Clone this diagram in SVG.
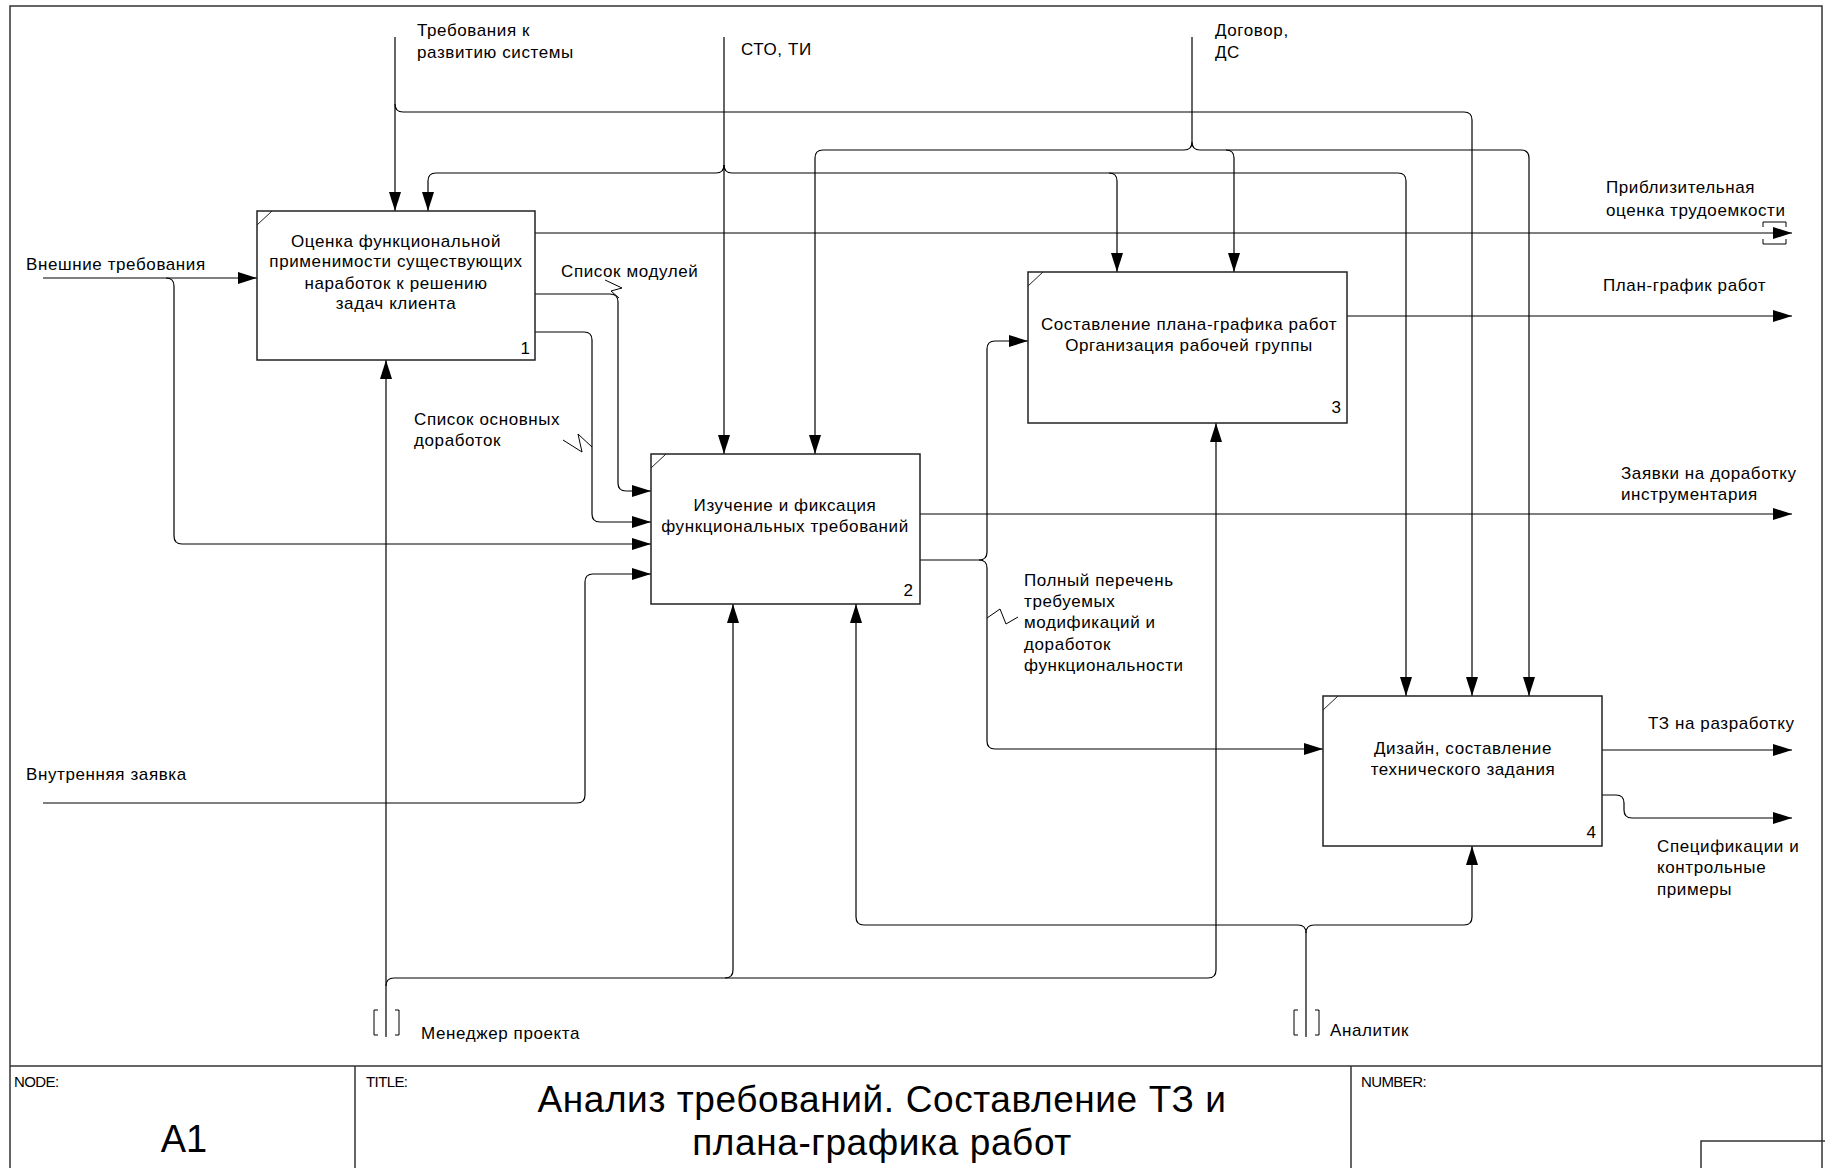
<svg xmlns="http://www.w3.org/2000/svg" width="1825" height="1168" viewBox="0 0 1825 1168">
  <style>
    .frame { fill: none; stroke: #333; stroke-width: 1.5; }
    .box { fill: #fff; stroke: #222; stroke-width: 1.5; }
    .tick { stroke: #222; stroke-width: 1; }
    .wire { fill: none; stroke: #000; stroke-width: 1.2; }
    .thin { fill: none; stroke: #000; stroke-width: 1; }
    text { font-family: "Liberation Sans", Arial, sans-serif; fill: #000; }
    .lbl { font-size: 17px; letter-spacing: 0.6px; }
    .nodeText { font-size: 17px; letter-spacing: 0.6px; text-anchor: middle; }
    .num { font-size: 17px; text-anchor: end; }
    .hdr { font-size: 15px; letter-spacing: -0.6px; }
    .title { font-size: 37px; text-anchor: middle; letter-spacing: 0.6px; }
    .nodeId { font-size: 38px; text-anchor: middle; }
  </style>
  <defs>
    <marker id="arrow" markerUnits="userSpaceOnUse" markerWidth="20" markerHeight="14" refX="19" refY="6" orient="auto">
      <path d="M0,0 L19,6 L0,12 z" fill="#000"/>
    </marker>
  </defs>

  <rect width="1825" height="1168" fill="#fff"/>

  <!-- sheet frame and title block -->
  <g id="frame">
    <rect class="frame" x="10" y="6" width="1812" height="1170"/>
    <line class="frame" x1="10" y1="1066" x2="1822" y2="1066"/>
    <line class="frame" x1="355" y1="1066" x2="355" y2="1168"/>
    <line class="frame" x1="1351" y1="1066" x2="1351" y2="1168"/>
    <polyline class="frame" points="1701,1168 1701,1141 1825,1141"/>
    <text class="hdr" x="14" y="1087">NODE:</text>
    <text class="hdr" x="366" y="1087">TITLE:</text>
    <text class="hdr" x="1361" y="1087">NUMBER:</text>
    <text class="nodeId" x="184" y="1152">A1</text>
    <text class="title" x="882" y="1112">Анализ требований. Составление ТЗ и</text>
    <text class="title" x="882" y="1155">плана-графика работ</text>
  </g>

  <!-- connectors -->
  <g id="connectors">
    <!-- Требования к развитию системы -->
    <path class="wire" d="M395,37 V211" marker-end="url(#arrow)"/>
    <path class="wire" d="M395,104 Q395,112 403,112 H1464 Q1472,112 1472,120 V696" marker-end="url(#arrow)"/>

    <!-- СТО, ТИ -->
    <path class="wire" d="M724,37 V454" marker-end="url(#arrow)"/>
    <path class="wire" d="M724,165 Q724,173 716,173 H436 Q428,173 428,181 V211" marker-end="url(#arrow)"/>
    <path class="wire" d="M724,165 Q724,173 732,173 H1109 Q1117,173 1117,181 V272" marker-end="url(#arrow)"/>
    <path class="wire" d="M1109,173 H1398 Q1406,173 1406,181 V696" marker-end="url(#arrow)"/>

    <!-- Договор, ДС -->
    <path class="wire" d="M1192,37 V142"/>
    <path class="wire" d="M1192,142 Q1192,150 1184,150 H823 Q815,150 815,158 V454" marker-end="url(#arrow)"/>
    <path class="wire" d="M1192,142 Q1192,150 1200,150 H1226 Q1234,150 1234,158 V272" marker-end="url(#arrow)"/>
    <path class="wire" d="M1226,150 H1521 Q1529,150 1529,158 V696" marker-end="url(#arrow)"/>

    <!-- Приблизительная оценка трудоемкости (tunnelled) -->
    <path class="wire" d="M535,233 H1792" marker-end="url(#arrow)"/>
    <path class="thin" d="M1763,227 V222 H1786 V227"/>
    <path class="thin" d="M1763,239 V244 H1786 V239"/>

    <!-- Список модулей -->
    <path class="wire" d="M535,294 H610 Q618,294 618,302 V483 Q618,491 626,491 H651" marker-end="url(#arrow)"/>
    <polyline class="thin" points="605,280 622,288 611,291 619,298"/>

    <!-- Список основных доработок -->
    <path class="wire" d="M535,332 H584 Q592,332 592,340 V514 Q592,522 600,522 H651" marker-end="url(#arrow)"/>
    <polyline class="thin" points="563,440 582,452 578,434 592,447"/>

    <!-- Внешние требования -->
    <path class="wire" d="M43,278 H257" marker-end="url(#arrow)"/>
    <path class="wire" d="M166,278 Q174,278 174,286 V536 Q174,544 182,544 H651" marker-end="url(#arrow)"/>

    <!-- Внутренняя заявка -->
    <path class="wire" d="M43,803 H577 Q585,803 585,795 V582 Q585,574 593,574 H651" marker-end="url(#arrow)"/>

    <!-- Заявки на доработку инструментария -->
    <path class="wire" d="M920,514 H1792" marker-end="url(#arrow)"/>

    <!-- Полный перечень требуемых модификаций -->
    <path class="wire" d="M920,560 H979 Q987,560 987,552 V349 Q987,341 995,341 H1028" marker-end="url(#arrow)"/>
    <path class="wire" d="M979,560 Q987,560 987,568 V741 Q987,749 995,749 H1323" marker-end="url(#arrow)"/>
    <polyline class="thin" points="987,618 1000,609 1006,624 1018,617"/>

    <!-- План-график работ -->
    <path class="wire" d="M1347,316 H1792" marker-end="url(#arrow)"/>

    <!-- ТЗ на разработку -->
    <path class="wire" d="M1602,750 H1792" marker-end="url(#arrow)"/>

    <!-- Спецификации и контрольные примеры -->
    <path class="wire" d="M1602,795 H1616 Q1624,795 1624,803 V810 Q1624,818 1632,818 H1792" marker-end="url(#arrow)"/>

    <!-- Менеджер проекта -->
    <path class="wire" d="M386,1037 V360" marker-end="url(#arrow)"/>
    <path class="wire" d="M386,986 Q386,978 394,978 H725 Q733,978 733,970 V604" marker-end="url(#arrow)"/>
    <path class="wire" d="M725,978 H1208 Q1216,978 1216,970 V423" marker-end="url(#arrow)"/>
    <path class="thin" d="M378,1010 H374 V1035 H378"/>
    <path class="thin" d="M395,1010 H399 V1035 H395"/>

    <!-- Аналитик -->
    <path class="wire" d="M1306,1037 V933"/>
    <path class="wire" d="M1306,933 Q1306,925 1298,925 H864 Q856,925 856,917 V604" marker-end="url(#arrow)"/>
    <path class="wire" d="M1306,933 Q1306,925 1314,925 H1464 Q1472,925 1472,917 V846" marker-end="url(#arrow)"/>
    <path class="thin" d="M1298,1010 H1294 V1035 H1298"/>
    <path class="thin" d="M1315,1010 H1319 V1035 H1315"/>
  </g>

  <!-- arrow labels -->
  <g id="labels">
    <text class="lbl" x="417" y="36">Требования к</text>
    <text class="lbl" x="417" y="58">развитию системы</text>
    <text class="lbl" x="741" y="55">СТО, ТИ</text>
    <text class="lbl" x="1215" y="36">Договор,</text>
    <text class="lbl" x="1215" y="58">ДС</text>
    <text class="lbl" x="1606" y="193">Приблизительная</text>
    <text class="lbl" x="1606" y="216">оценка трудоемкости</text>
    <text class="lbl" x="1603" y="291">План-график работ</text>
    <text class="lbl" x="1621" y="479">Заявки на доработку</text>
    <text class="lbl" x="1621" y="500">инструментария</text>
    <text class="lbl" x="1024" y="586">Полный перечень</text>
    <text class="lbl" x="1024" y="607">требуемых</text>
    <text class="lbl" x="1024" y="628">модификаций и</text>
    <text class="lbl" x="1024" y="650">доработок</text>
    <text class="lbl" x="1024" y="671">функциональности</text>
    <text class="lbl" x="1648" y="729">ТЗ на разработку</text>
    <text class="lbl" x="1657" y="852">Спецификации и</text>
    <text class="lbl" x="1657" y="873">контрольные</text>
    <text class="lbl" x="1657" y="895">примеры</text>
    <text class="lbl" x="26" y="270">Внешние требования</text>
    <text class="lbl" x="561" y="277">Список модулей</text>
    <text class="lbl" x="414" y="425">Список основных</text>
    <text class="lbl" x="414" y="446">доработок</text>
    <text class="lbl" x="26" y="780">Внутренняя заявка</text>
    <text class="lbl" x="421" y="1039">Менеджер проекта</text>
    <text class="lbl" x="1330" y="1036">Аналитик</text>
  </g>

  <!-- activity boxes -->
  <g id="node-1">
    <rect class="box" x="257" y="211" width="278" height="149"/>
    <line class="tick" x1="257" y1="225" x2="272" y2="211"/>
    <text class="nodeText" x="396" y="247">Оценка функциональной</text>
    <text class="nodeText" x="396" y="267">применимости существующих</text>
    <text class="nodeText" x="396" y="289">наработок к решению</text>
    <text class="nodeText" x="396" y="309">задач клиента</text>
    <text class="num" x="530" y="354">1</text>
  </g>

  <g id="node-2">
    <rect class="box" x="651" y="454" width="269" height="150"/>
    <line class="tick" x1="651" y1="468" x2="666" y2="454"/>
    <text class="nodeText" x="785" y="511">Изучение и фиксация</text>
    <text class="nodeText" x="785" y="532">функциональных требований</text>
    <text class="num" x="913" y="596">2</text>
  </g>

  <g id="node-3">
    <rect class="box" x="1028" y="272" width="319" height="151"/>
    <line class="tick" x1="1028" y1="286" x2="1043" y2="272"/>
    <text class="nodeText" x="1189" y="330">Составление плана-графика работ</text>
    <text class="nodeText" x="1189" y="351">Организация рабочей группы</text>
    <text class="num" x="1341" y="413">3</text>
  </g>

  <g id="node-4">
    <rect class="box" x="1323" y="696" width="279" height="150"/>
    <line class="tick" x1="1323" y1="710" x2="1338" y2="696"/>
    <text class="nodeText" x="1463" y="754">Дизайн, составление</text>
    <text class="nodeText" x="1463" y="775">технического задания</text>
    <text class="num" x="1596" y="838">4</text>
  </g>
</svg>
